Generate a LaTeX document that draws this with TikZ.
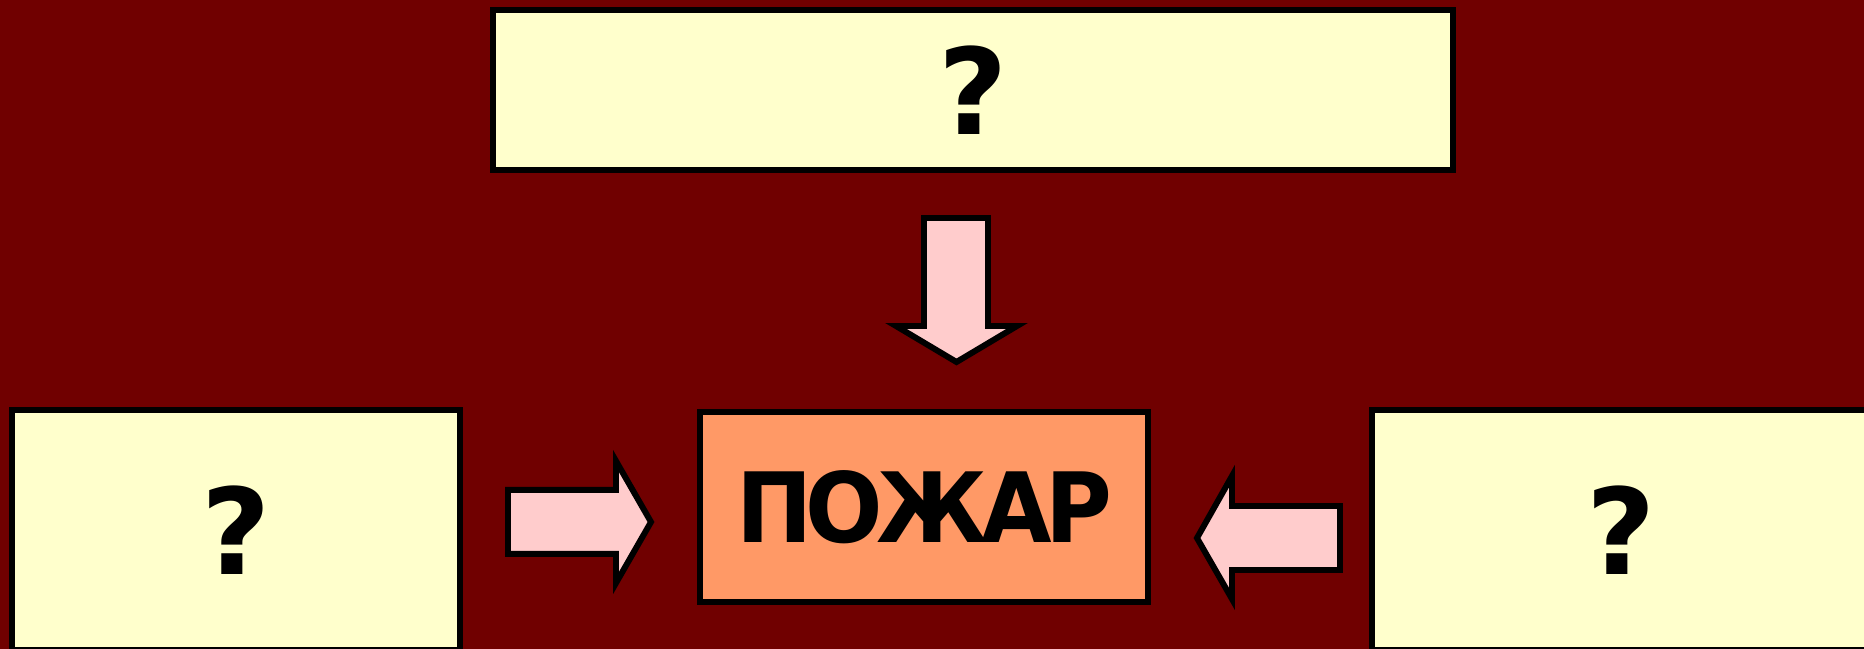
\documentclass[tikz,border=0pt]{standalone}
\usepackage{fontspec}
\setmainfont{DejaVu Sans}
\newfontfamily\firefont{DejaVu Sans}[FakeStretch=0.94, LetterSpace=-7]
\usetikzlibrary{positioning}

\definecolor{darkback}{HTML}{700000}
\definecolor{qyellow}{HTML}{FFFFCC}
\definecolor{fireorange}{HTML}{FF9966}
\definecolor{arrowpink}{HTML}{FFCCCC}

\begin{document}
\begin{tikzpicture}[
            x = 0.02cm, % one pixel of the reference
            y = -0.02cm,
            line width = 3.4pt, % border style
            qbox/.style = {
                draw = black,
                fill = qyellow,
                inner sep = 0pt,
                font = \fontsize{68}{70}\selectfont\bfseries
            },
            firebox/.style = {
                draw = black,
                fill = fireorange,
                inner sep = 0pt,
                font = \fontsize{55.2}{60}\selectfont\firefont\bfseries
            },
            blockarrow/.style = {
                draw = black,
                fill = arrowpink,
                miter limit = 10
            }
        ]

        % background
        \fill[darkback] (0,0) rectangle (1864,649);
        \useasboundingbox (0,0) rectangle (1864,649);

        % top box
        \node[qbox, minimum width = 19.22cm, minimum height = 3.21cm] (Top) at (973,89.8) {?};

        % centre box
        \node[firebox, minimum width = 8.96cm, minimum height = 3.8cm] (Fire) at (924,507) {ПОЖАР};

        % side boxes
        \node[qbox, minimum width = 8.97cm, minimum height = 4.8cm] (Left) at (235.9,529.7) {?};
        \node[qbox, minimum width = 9.97cm, minimum height = 4.8cm] (Right) at (1621,529.7) {?};

        % arrows
        \draw[blockarrow] (924,218) -- (988,218) -- (988,326) -- (1017,326)
            -- (956.5,362) -- (896,326) -- (924,326) -- cycle;
        \draw[blockarrow] (508,489.8) -- (616,489.8) -- (616,461) -- (651,522)
            -- (616,583) -- (616,553.8) -- (508,553.8) -- cycle;
        \draw[blockarrow] (1340,506) -- (1232,506) -- (1232,476) -- (1197,538)
            -- (1232,599) -- (1232,570) -- (1340,570) -- cycle;

\end{tikzpicture}
\end{document}
